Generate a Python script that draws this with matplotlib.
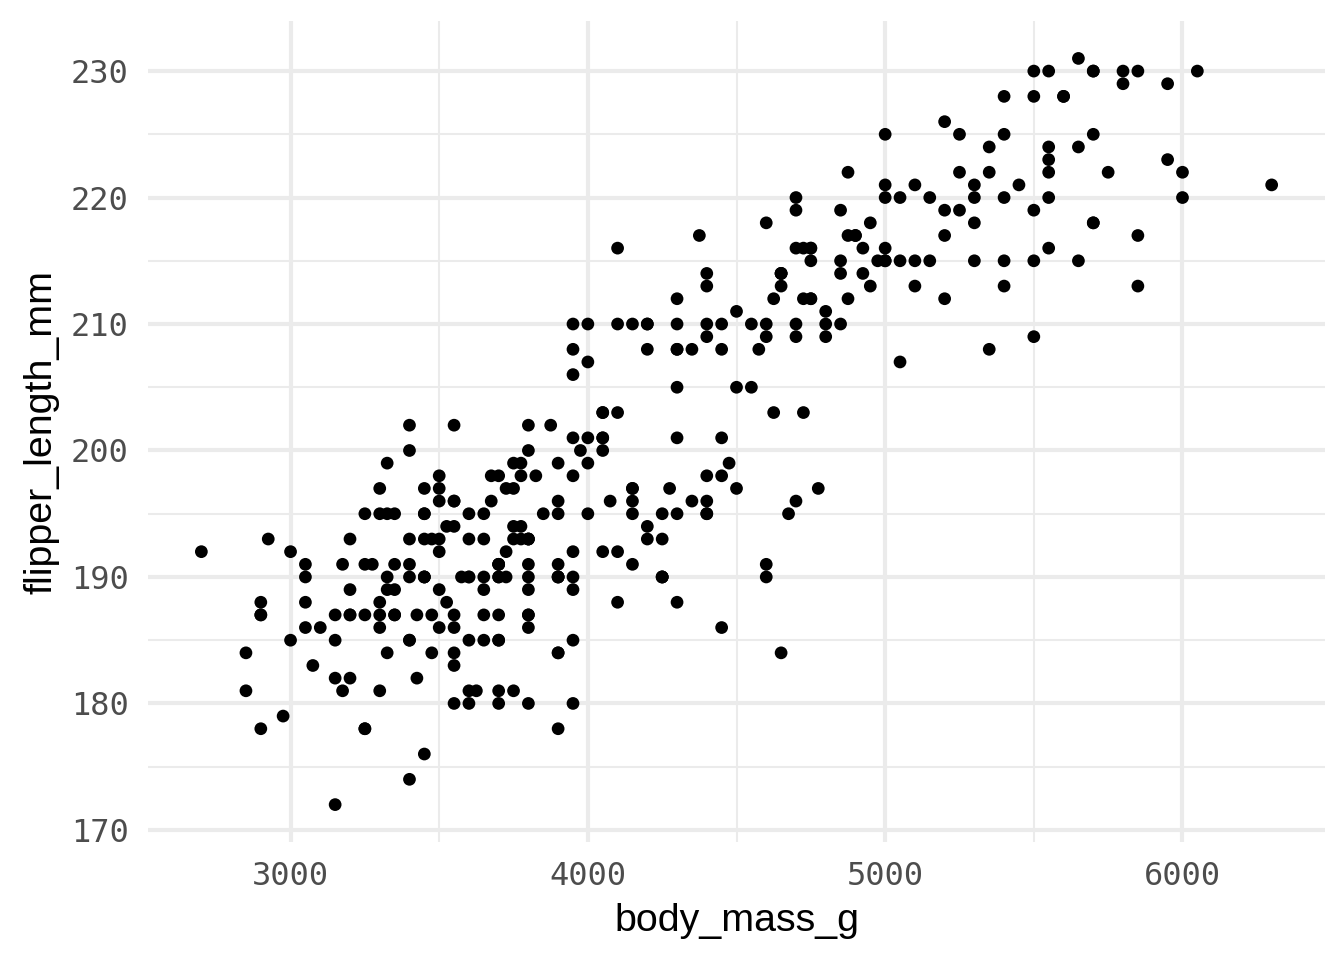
import numpy as np
import matplotlib
matplotlib.use("Agg")
import matplotlib.pyplot as plt
from matplotlib.ticker import FixedLocator

# Adelie
adelie_flipper = [181,186,195,193,190,181,195,193,190,186,180,182,191,198,185,195,197,184,194,174,180,189,185,180,187,183,187,172,180,178,178,188,184,195,196,190,180,181,184,182,195,186,196,185,190,182,179,190,191,186,188,190,200,187,191,186,193,181,194,185,195,185,192,184,192,195,188,190,198,190,190,196,197,190,195,191,184,187,195,189,196,187,193,191,194,190,189,189,190,202,205,185,186,187,208,190,196,178,192,192,203,183,190,193,184,199,190,181,197,198,191,193,197,191,196,188,199,189,189,187,198,176,202,186,199,191,195,191,210,190,197,193,199,187,190,191,200,185,193,193,187,188,190,192,185,190,184,195,193,187,201]
adelie_mass = [3750,3800,3250,3450,3650,3625,4675,3475,4250,3300,3700,3200,3800,4400,3700,3450,4500,3325,4200,3400,3600,3800,3950,3800,3800,3550,3200,3150,3950,3250,3900,3300,3900,3325,4150,3950,3550,3300,4650,3150,3900,3100,4400,3000,4600,3425,2975,3450,4150,3500,4300,3450,4050,2900,3700,3550,3800,2850,3750,3150,4400,3600,4050,2850,3950,3350,4100,3050,4450,3600,3900,3550,4150,3700,4250,3700,3900,3550,4000,3200,4700,3800,4200,3350,3550,3800,3500,3950,3600,3550,4300,3400,4450,3300,4300,3700,4350,2900,4100,3725,4725,3075,4250,2925,3550,3750,3900,3175,4775,3825,4600,3200,4275,3900,4075,2900,3775,3350,3325,3150,3500,3450,3875,3050,4000,3275,4300,3050,4000,3325,3500,3500,4475,3425,3900,3175,3975,3400,4250,3400,3475,3050,3725,3000,3650,4250,3475,3450,3750,3700,4000]

# Gentoo
gentoo_flipper = [211,230,210,218,215,210,211,219,209,215,214,216,214,213,210,217,210,221,209,222,218,215,213,215,215,215,216,215,210,220,222,209,207,230,220,220,213,219,208,208,208,225,210,216,222,217,210,225,213,215,210,220,210,225,217,220,208,220,208,224,208,221,214,231,219,230,214,229,220,223,216,221,221,217,216,230,209,220,215,223,212,221,212,224,212,228,218,218,212,230,218,228,212,224,214,226,216,222,203,225,219,228,215,228,216,215,210,219,208,209,216,229,213,230,217,230,217,222,214,215,222,212,213]
gentoo_mass = [4500,5700,4450,5700,5400,4550,4800,5200,4400,5150,4650,5550,4650,5850,4200,5850,4150,6300,4800,5350,5700,5000,4400,5050,5000,5100,4100,5650,4600,5550,5250,4700,5050,6050,5150,5400,4950,5250,4350,5350,3950,5700,4300,4750,5550,4900,4200,5400,5100,5300,4850,5300,4400,5000,4900,5050,4300,5000,4450,5550,4200,5300,4400,5650,4700,5700,4650,5800,4700,5550,4750,5000,5100,5200,4700,5800,4600,6000,4750,5950,4625,5450,4725,5350,4750,5600,4600,5300,4875,5550,4950,5400,4750,5650,4850,5200,4925,4875,4625,5250,4850,5600,4975,5500,4725,5500,4700,5500,4575,5500,5000,5950,4650,5500,4375,5850,4875,6000,4925,4850,5750,5200,5400]

# Chinstrap
chinstrap_flipper = [192,196,193,188,197,198,178,197,195,198,193,194,185,201,190,201,197,181,190,195,181,191,187,193,195,197,200,200,191,205,187,201,187,203,195,199,195,210,192,205,210,187,196,196,196,201,190,212,187,198,199,201,193,203,187,197,191,203,202,194,206,189,195,207,202,193,210,198]
chinstrap_mass = [3500,3900,3650,3525,3725,3950,3250,3750,4150,3700,3800,3775,3700,4050,3575,4050,3300,3700,3450,4400,3600,3400,2900,3800,3300,4150,3400,3800,3700,4550,3200,4300,3350,4100,3600,3900,3850,4800,2700,4500,3950,3650,3550,3500,3675,4450,3400,4300,3250,3675,3325,3950,3600,4050,3350,3450,3250,4050,3800,3525,3950,3650,3650,4000,3400,3775,4100,3775]

x_ticks = [3000, 4000, 5000, 6000]
x_minor = [3500, 4500, 5500]
y_ticks = [170, 180, 190, 200, 210, 220, 230]
y_minor = [175, 185, 195, 205, 215, 225]

body_mass = np.array(adelie_mass + gentoo_mass + chinstrap_mass, dtype=float)
flipper = np.array(adelie_flipper + gentoo_flipper + chinstrap_flipper, dtype=float)

fig = plt.figure(figsize=(6.72, 4.8), dpi=200)
ax = fig.add_axes([0.110, 0.123, 0.876, 0.855])

ax.scatter(body_mass, flipper, s=21, color="black", edgecolors="none", zorder=3)

xr = body_mass.max() - body_mass.min()
yr = flipper.max() - flipper.min()
ax.set_xlim(body_mass.min() - 0.05 * xr, body_mass.max() + 0.05 * xr)
ax.set_ylim(flipper.min() - 0.05 * yr, flipper.max() + 0.05 * yr)

ax.xaxis.set_major_locator(FixedLocator(x_ticks))
ax.xaxis.set_minor_locator(FixedLocator(x_minor))
ax.yaxis.set_major_locator(FixedLocator(y_ticks))
ax.yaxis.set_minor_locator(FixedLocator(y_minor))

ax.grid(which="major", color="#ebebeb", linewidth=1.5, zorder=0)
ax.grid(which="minor", color="#ebebeb", linewidth=0.75, zorder=0)
ax.set_axisbelow(True)
for s in ax.spines.values():
    s.set_visible(False)

ax.tick_params(which="both", length=0)
ax.tick_params(axis="x", pad=7)
ax.tick_params(axis="y", pad=7)
for lab in ax.get_xticklabels() + ax.get_yticklabels():
    lab.set_fontfamily("DejaVu Sans Mono")
    lab.set_fontsize(11.5)
    lab.set_color("#4d4d4d")

ax.set_xlabel("body_mass_g", fontsize=14.2, family="Liberation Sans", color="black", labelpad=4)
ax.set_ylabel("flipper_length_mm", fontsize=14.2, family="Liberation Sans", color="black", labelpad=4)

fig.savefig("out.png", dpi=200, facecolor="white")
